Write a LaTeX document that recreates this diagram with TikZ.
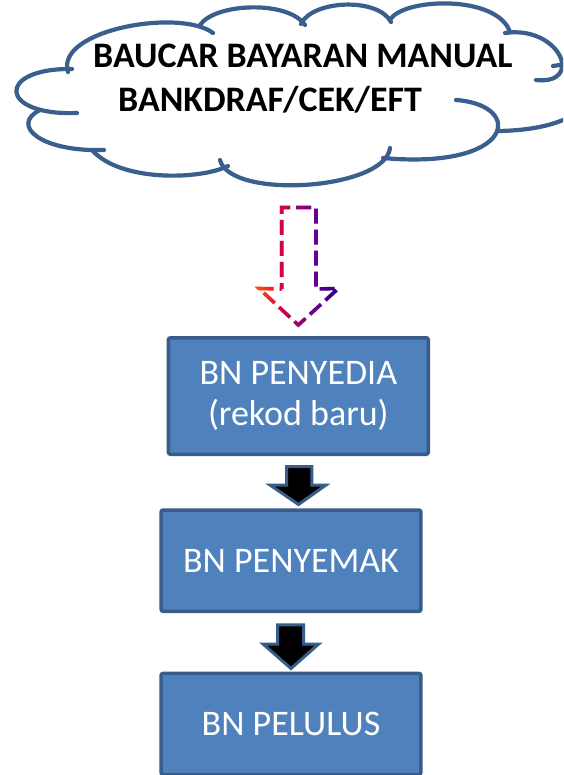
\documentclass[tikz,border=0pt]{standalone}
\usepackage{fontspec}
\setmainfont{Carlito}
\definecolor{cloudblue}{RGB}{58,95,140}
\definecolor{boxedge}{RGB}{56,93,138}
\definecolor{boxfill}{RGB}{79,129,189}
\definecolor{cA}{RGB}{255,80,0}
\definecolor{cB}{RGB}{210,0,80}
\definecolor{cC}{RGB}{100,0,145}
\definecolor{cD}{RGB}{40,0,140}
\tikzset{
  cloudline/.style={draw=cloudblue, line width=4.2pt, line cap=round},
  flowbox/.style={draw=boxedge, fill=boxfill, line width=3.5pt, rounded corners=2pt,
    text=white, font=\fontsize{36}{41}\selectfont, align=center, inner sep=0pt,
    minimum width=259.8pt},
  blockarrow/.style={fill=black, draw=boxedge, line width=3pt, line join=miter},
  dashline/.style={line width=3.6pt, dash pattern=on 15pt off 6pt, dash phase=9pt},
  darrowpath/.style={insert path={(281.7,289) -- (281.7,207.5) -- (316,207.5) -- (316,289)
    -- (338.3,288.5) -- (298.3,325) -- (259,288.5) -- cycle}},
  titletext/.style={anchor=base west, inner sep=0pt, font=\fontsize{35.9}{43}\selectfont\bfseries}
}
\begin{document}
\begin{tikzpicture}[x=1pt,y=-1pt]
\useasboundingbox (0,0) rectangle (563,775);
\fill[white] (0,0) rectangle (563,775);
\begin{scope}
\clip (0,0) rectangle (563,775);
% cloud lobes
\draw[cloudline] (77,113) .. controls (-2,116) and (-4,68) .. (72,69);
\draw[cloudline] (68,72) .. controls (55,30) and (180,8) .. (213,33);
\draw[cloudline] (200,25) .. controls (215,3) and (288,0) .. (305,25);
\draw[cloudline] (301,24) .. controls (312,0) and (378,-3) .. (391,22);
\draw[cloudline] (390,20) .. controls (402,-2) and (497,-6) .. (510,32);
\draw[cloudline] (505,33) .. controls (560,25) and (585,85) .. (536,80);
\draw[cloudline] (553,66) .. controls (610,55) and (620,130) .. (497,131);
\draw[cloudline] (456,100) .. controls (525,105) and (515,170) .. (383,158);
\draw[cloudline] (390,148) .. controls (385,190) and (230,200) .. (220,160);
\draw[cloudline] (228,166) .. controls (200,180) and (120,182) .. (92,150);
\draw[cloudline] (104,150) .. controls (40,152) and (10,125) .. (40,110);
\node[titletext] (t1) at (93,68) {BAUCAR BAYARAN MANUAL};
\node[titletext] (t2) at (118,112) {BANKDRAF/CEK/EFT};

% dashed gradient arrow
\foreach \i in {0,...,24} {
  \pgfmathtruncatemacro\p{100-4*\i}
  \begin{scope}
    \clip (257+\i-0.05,195) rectangle (258.1+\i,335);
    \draw[dashline, draw=cA!\p!cB, darrowpath];
  \end{scope}
}
\foreach \i in {0,...,33} {
  \pgfmathtruncatemacro\p{100-100*\i/34}
  \begin{scope}
    \clip (282+\i-0.05,195) rectangle (283.1+\i,335);
    \draw[dashline, draw=cB!\p!cC, darrowpath];
  \end{scope}
}
\foreach \i in {0,...,24} {
  \pgfmathtruncatemacro\p{100-4*\i}
  \begin{scope}
    \clip (316+\i-0.05,195) rectangle (317.1+\i,335);
    \draw[dashline, draw=cC!\p!cD, darrowpath];
  \end{scope}
}
\begin{scope}
  \clip (340.9,195) rectangle (352,335);
  \draw[dashline, draw=cD, darrowpath];
\end{scope}
\begin{scope}
  \clip (245,195) rectangle (257,335);
  \draw[dashline, draw=cA, darrowpath];
\end{scope}

% boxes
\node[flowbox, minimum height=116.5pt] (b1) at (298.35,396) {BN PENYEDIA\\(rekod baru)};
\node[flowbox, minimum height=101.2pt] (b2) at (291,560.7) {BN PENYEMAK};
\node[flowbox, minimum height=101.2pt] (b3) at (291,724) {BN PELULUS};

% block arrows
\draw[blockarrow] (286.5,466.5) -- (311.8,466.5) -- (311.8,485) -- (326,485) -- (298.5,504.5)
  -- (270,485) -- (286.5,485) -- cycle;
\draw[blockarrow] (277.5,624.8) -- (303.5,624.8) -- (303.5,644) -- (318.7,644) -- (291,668.5)
  -- (263,644) -- (277.5,644) -- cycle;
\end{scope}
\end{tikzpicture}
\end{document}
